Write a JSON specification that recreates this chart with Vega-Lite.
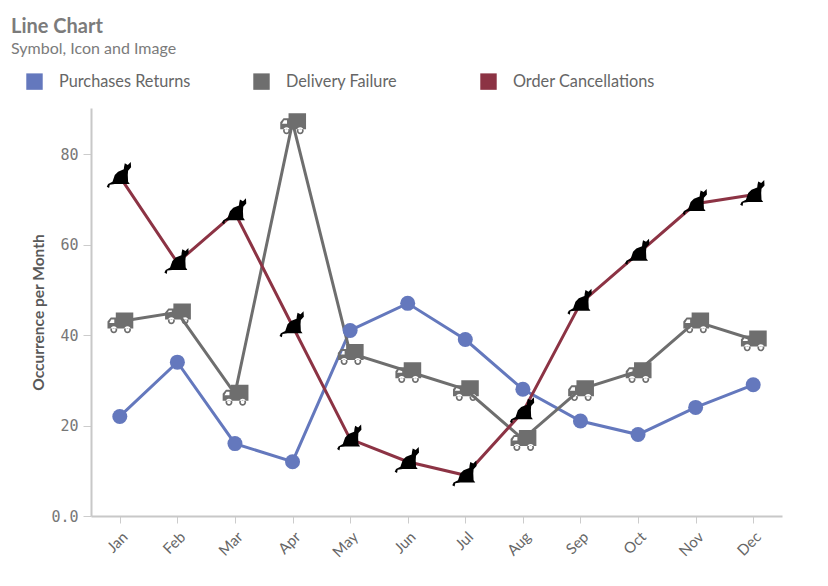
{
  "$schema": "https://vega.github.io/schema/vega-lite/v6.json",
  "width": 691,
  "height": 408,
  "autosize": "none",
  "padding": {"left": 91, "top": 108, "right": 46, "bottom": 70},
  "background": "white",
  "view": {"stroke": null},
  "title": {
    "text": "Line Chart",
    "subtitle": "Symbol, Icon and Image",
    "anchor": "start",
    "frame": "group",
    "dx": -80,
    "offset": 16,
    "font": "Lato",
    "fontSize": 20,
    "fontWeight": "bold",
    "color": "#7b7b7b",
    "subtitleFont": "Lato",
    "subtitleFontSize": 16,
    "subtitleColor": "#7b7b7b",
    "subtitlePadding": 4
  },
  "data": {
    "values": [
      {"month": "Jan", "series": "Purchases Returns", "value": 22},
      {"month": "Feb", "series": "Purchases Returns", "value": 34},
      {"month": "Mar", "series": "Purchases Returns", "value": 16},
      {"month": "Apr", "series": "Purchases Returns", "value": 12},
      {"month": "May", "series": "Purchases Returns", "value": 41},
      {"month": "Jun", "series": "Purchases Returns", "value": 47},
      {"month": "Jul", "series": "Purchases Returns", "value": 39},
      {"month": "Aug", "series": "Purchases Returns", "value": 28},
      {"month": "Sep", "series": "Purchases Returns", "value": 21},
      {"month": "Oct", "series": "Purchases Returns", "value": 18},
      {"month": "Nov", "series": "Purchases Returns", "value": 24},
      {"month": "Dec", "series": "Purchases Returns", "value": 29},
      {"month": "Jan", "series": "Delivery Failure", "value": 43},
      {"month": "Feb", "series": "Delivery Failure", "value": 45},
      {"month": "Mar", "series": "Delivery Failure", "value": 27},
      {"month": "Apr", "series": "Delivery Failure", "value": 87},
      {"month": "May", "series": "Delivery Failure", "value": 36},
      {"month": "Jun", "series": "Delivery Failure", "value": 32},
      {"month": "Jul", "series": "Delivery Failure", "value": 28},
      {"month": "Aug", "series": "Delivery Failure", "value": 17},
      {"month": "Sep", "series": "Delivery Failure", "value": 28},
      {"month": "Oct", "series": "Delivery Failure", "value": 32},
      {"month": "Nov", "series": "Delivery Failure", "value": 43},
      {"month": "Dec", "series": "Delivery Failure", "value": 39},
      {"month": "Jan", "series": "Order Cancellations", "value": 75},
      {"month": "Feb", "series": "Order Cancellations", "value": 56},
      {"month": "Mar", "series": "Order Cancellations", "value": 67},
      {"month": "Apr", "series": "Order Cancellations", "value": 42},
      {"month": "May", "series": "Order Cancellations", "value": 17},
      {"month": "Jun", "series": "Order Cancellations", "value": 12},
      {"month": "Jul", "series": "Order Cancellations", "value": 9},
      {"month": "Aug", "series": "Order Cancellations", "value": 23},
      {"month": "Sep", "series": "Order Cancellations", "value": 47},
      {"month": "Oct", "series": "Order Cancellations", "value": 58},
      {"month": "Nov", "series": "Order Cancellations", "value": 69},
      {"month": "Dec", "series": "Order Cancellations", "value": 71}
    ]
  },
  "encoding": {
    "x": {
      "field": "month",
      "type": "nominal",
      "sort": null,
      "scale": {"type": "point", "padding": 0.5},
      "axis": {
        "title": null,
        "labelAngle": -45,
        "labelFont": "Lato",
        "labelFontSize": 15,
        "labelColor": "#666666",
        "labelPadding": 6,
        "tickColor": "#cccccc",
        "tickSize": 7,
        "tickWidth": 1,
        "domainColor": "#c8c8c8",
        "domainWidth": 2,
        "grid": false
      }
    },
    "y": {
      "field": "value",
      "type": "quantitative",
      "scale": {"domain": [0, 90.17], "nice": false},
      "axis": {
        "title": "Occurrence per Month",
        "titleFont": "Lato",
        "titleFontSize": 15.5,
        "titleFontWeight": "bold",
        "titleColor": "#595959",
        "titlePadding": 4,
        "values": [0, 20, 40, 60, 80],
        "labelExpr": "datum.value == 0 ? '0.0' : datum.label",
        "labelFont": "DejaVu Sans Mono",
        "labelFontSize": 15,
        "labelColor": "#777777",
        "labelPadding": 5,
        "tickColor": "#cccccc",
        "tickSize": 8,
        "tickWidth": 1,
        "domainColor": "#c8c8c8",
        "domainWidth": 2,
        "grid": false
      }
    },
    "color": {
      "field": "series",
      "type": "nominal",
      "scale": {
        "domain": ["Purchases Returns", "Delivery Failure", "Order Cancellations"],
        "range": ["#6478bd", "#6e6e6e", "#8c3344"]
      },
      "legend": {
        "title": null,
        "orient": "none",
        "legendX": -65,
        "legendY": -35,
        "direction": "horizontal",
        "columns": 3,
        "gridAlign": "all",
        "columnPadding": 52,
        "symbolType": "square",
        "symbolSize": 270,
        "symbolStrokeWidth": 0,
        "symbolOpacity": 1,
        "labelOffset": 16,
        "labelFont": "Lato",
        "labelFontSize": 16.3,
        "labelColor": "#666666",
        "labelLimit": 200
      }
    }
  },
  "layer": [
    {
      "mark": {"type": "line", "strokeWidth": 3, "point": false},
      "encoding": {"detail": {"field": "series"}}
    },
    {
      "transform": [{"filter": "datum.series == 'Purchases Returns'"}],
      "mark": {"type": "point", "filled": true, "opacity": 1, "shape": "circle", "size": 225}
    },
    {
      "transform": [{"filter": "datum.series == 'Delivery Failure'"}],
      "mark": {
        "type": "point",
        "filled": true,
        "opacity": 1,
        "size": 4,
        "shape": "M-4 -9H13.5V7H-4Z M-4 -4V7H-12.3V0L-9 -4Z M-5.5 -2H-8.5L-10.5 1.5H-5.5Z M-9.5 8.3A3.5 3.5 0 1 0 -2.5 8.3A3.5 3.5 0 1 0 -9.5 8.3Z M-7.8 8.3A1.8 1.8 0 1 1 -4.2 8.3A1.8 1.8 0 1 1 -7.8 8.3Z M4.2 8.3A3.5 3.5 0 1 0 11.2 8.3A3.5 3.5 0 1 0 4.2 8.3Z M5.9 8.3A1.8 1.8 0 1 1 9.5 8.3A1.8 1.8 0 1 1 5.9 8.3Z"
      }
    },
    {
      "transform": [{"filter": "datum.series == 'Order Cancellations'"}],
      "mark": {
        "type": "point",
        "filled": true,
        "opacity": 1,
        "size": 4,
        "shape": "M5 -13.3L8 -11.7L11 -14.7L11.3 -9.3L8.3 -6L8 -1.7L8.3 5L10 7.3L-5 7.3L-10 8L-10.7 11.3L-13 10L-11.7 7.3L-7.3 5L-5 -1.7L-1.7 -5L4 -7.3L4.3 -10Z"
      },
      "encoding": {"color": {"value": "#000000"}}
    }
  ]
}
